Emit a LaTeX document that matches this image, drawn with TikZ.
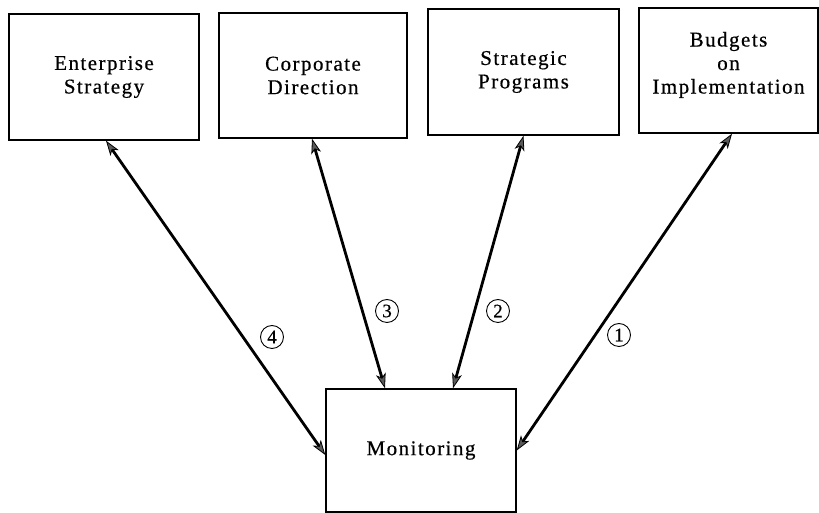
\documentclass[tikz,border=0pt]{standalone}
\usepackage{fontspec}
\setmainfont{Liberation Serif}[LetterSpace=7, FakeBold=0.5]
\usetikzlibrary{arrows.meta}
\begin{document}
\begin{tikzpicture}[x=1pt,y=1pt,
  box/.style={draw, line width=1.4pt, inner sep=0pt, align=center,
    font=\fontsize{21}{23.5}\selectfont},
  link/.style={line width=2.8pt,
    {Stealth[length=15pt, width=10pt, inset=4pt, line width=0.8pt, fill=black!65]}-{Stealth[length=15pt, width=10pt, inset=4pt, line width=0.8pt, fill=black!65]}},
  num/.style={circle, draw, line width=0.9pt, minimum size=23pt, inner sep=0pt,
    font=\fontsize{19}{19}\selectfont}]
\useasboundingbox (0,0) rectangle (819,513);

% upper row of boxes
\node[box, minimum width=190pt, minimum height=126pt] (es) at (104,436)
  {Enterprise\\Strategy};
\node[box, minimum width=188pt, minimum height=125pt] (cd) at (313,437.5)
  {Corporate\\Direction};
\node[box, minimum width=191pt, minimum height=126pt] (sp) at (523.5,441)
  {Strategic\\Programs};
\node[box, minimum width=179pt, minimum height=125pt] (bi) at (728.5,442.5)
  {Budgets\\on\\Implementation\\[-8pt]};

% central box
\node[box, minimum width=190pt, minimum height=123pt] (mon) at (421,62.5)
  {Monitoring};

% two-way links
\draw[link] ([xshift=2pt]es.south) -- ([yshift=-4.5pt]mon.west);
\draw[link] ([xshift=-1pt]cd.south) -- ([xshift=-36pt]mon.north);
\draw[link] (sp.south) -- ([xshift=32pt]mon.north);
\draw[link] ([xshift=3.5pt]bi.south) -- (mon.east);

% link numbers
\node[num] (n4) at (272,176) {4};
\node[num] (n3) at (387,202) {3};
\node[num] (n2) at (498,202) {2};
\node[num] (n1) at (619,178) {1};
\end{tikzpicture}
\end{document}
